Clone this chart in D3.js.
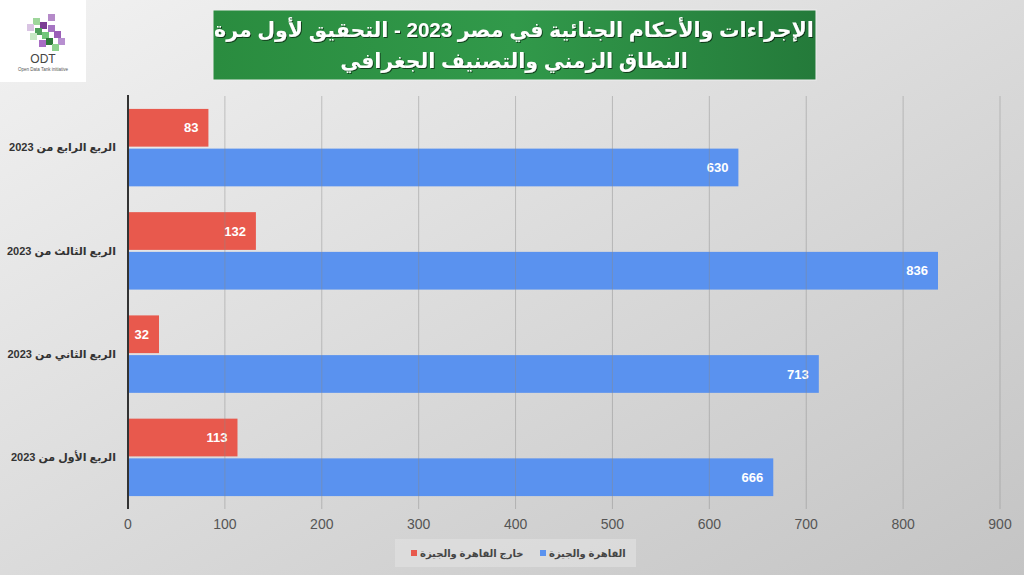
<!DOCTYPE html>
<html>
<head>
<meta charset="utf-8">
<title>الإجراءات والأحكام الجنائية في مصر 2023</title>
<style>
  body { margin: 0; padding: 0; overflow: hidden; }
  svg { display: block; font-family: 'Liberation Sans', Arial, 'DejaVu Sans', sans-serif; }
  .tick-label { font-size: 14px; fill: #555; }
  .cat-label { font-size: 11px; font-weight: bold; fill: #333; }
  .value-label { font-size: 13px; font-weight: bold; fill: #fff; }
  .legend-label { font-size: 10px; font-weight: bold; fill: #444; }
</style>
</head>
<body>
<svg width="1024" height="575"></svg>
<script src="https://d3js.org/d3.v7.min.js"></script>
<script>
// quarters, bottom to top as in the chart
const categories = ["الربع الأول من 2023", "الربع الثاني من 2023", "الربع الثالث من 2023", "الربع الرابع من 2023"];
const cairoGiza = [666, 713, 836, 630];
const outsideCairo = [113, 32, 132, 83];
const seriesNames = ["خارج القاهرة والجيزة", "القاهرة والجيزة"];
const seriesColors = ["#e8594d", "#5a92ef"];
const xTicks = [0, 100, 200, 300, 400, 500, 600, 700, 800, 900];
const titleLines = ["الإجراءات والأحكام الجنائية في مصر 2023 - التحقيق لأول مرة", "النطاق الزمني والتصنيف الجغرافي"];

const width = 1024, height = 575;
const margin = { top: 96, right: 24, bottom: 66, left: 128 };

const svg = d3.select("svg");

// background
const defs = svg.append("defs");
const bg = defs.append("linearGradient").attr("id", "bg")
  .attr("x1", "0%").attr("y1", "0%").attr("x2", "100%").attr("y2", "100%");
bg.append("stop").attr("offset", "0%").attr("stop-color", "#f2f2f2");
bg.append("stop").attr("offset", "100%").attr("stop-color", "#c4c4c4");
const green = defs.append("linearGradient").attr("id", "green")
  .attr("x1", "0%").attr("y1", "0%").attr("x2", "100%").attr("y2", "0%");
green.append("stop").attr("offset", "0%").attr("stop-color", "#2a8c3f");
green.append("stop").attr("offset", "50%").attr("stop-color", "#31994a");
green.append("stop").attr("offset", "100%").attr("stop-color", "#247a3a");
const shadow = defs.append("filter").attr("id", "shadow");
shadow.append("feDropShadow").attr("dx", 1).attr("dy", 1).attr("stdDeviation", 0.6)
  .attr("flood-color", "#000").attr("flood-opacity", 0.6);

svg.append("rect").attr("width", width).attr("height", height).attr("fill", "url(#bg)");

// logo
const logo = svg.append("g");
logo.append("rect").attr("x", 0).attr("y", 0).attr("width", 86).attr("height", 82).attr("fill", "#fff");
const cubes = [[48, 14, "#b58ac9"], [33, 18, "#9ed69b"], [40, 22, "#7b3d93"], [27, 24, "#d9c4e3"],
  [35, 28, "#4fa05a"], [48, 25, "#a574c2"], [42, 32, "#72c77a"], [54, 31, "#9b5fb8"],
  [30, 33, "#c8e8c5"], [46, 38, "#2f7a3a"], [58, 38, "#b78fd0"], [39, 40, "#a86dc4"], [52, 44, "#8ed28e"]];
logo.selectAll("rect.cube").data(cubes).join("rect").attr("class", "cube")
  .attr("x", d => d[0]).attr("y", d => d[1]).attr("width", 7).attr("height", 7)
  .attr("fill", d => d[2]);
logo.append("text").attr("x", 43).attr("y", 63).attr("text-anchor", "middle")
  .attr("font-size", 12).attr("fill", "#444").text("ODT");
logo.append("text").attr("x", 43).attr("y", 71).attr("text-anchor", "middle")
  .attr("font-size", 4.5).attr("fill", "#555").text("Open Data Tank initiative");

// title box
svg.append("rect").attr("x", 213).attr("y", 10).attr("width", 603).attr("height", 70)
  .attr("fill", "url(#green)").attr("stroke", "#eee").attr("stroke-width", 1);
svg.selectAll("text.title").data(titleLines).join("text").attr("class", "title")
  .attr("x", 514).attr("y", (d, i) => 37 + i * 31)
  .attr("text-anchor", "middle").attr("direction", "rtl")
  .attr("font-size", 20.5).attr("font-weight", "bold").attr("fill", "#fff")
  .attr("filter", "url(#shadow)")
  .text(d => d);

// scales
const x = d3.scaleLinear().domain([0, 900]).range([margin.left, 1000]);
const y = d3.scaleBand().domain(categories.slice().reverse())
  .range([margin.top, height - margin.bottom]).paddingInner(0.25).paddingOuter(0.125);
const ySub = d3.scaleBand().domain(seriesNames).range([0, y.bandwidth()]).paddingInner(0.05);

const rows = categories.map((c, i) => ({ cat: c, values: [outsideCairo[i], cairoGiza[i]] }));

// bars
const groups = svg.selectAll("g.row").data(rows).join("g").attr("class", "row")
  .attr("transform", d => `translate(0,${y(d.cat)})`);
groups.selectAll("rect").data(d => d.values.map((v, j) => ({ v, s: seriesNames[j], c: seriesColors[j] })))
  .join("rect")
  .attr("x", x(0)).attr("y", d => ySub(d.s))
  .attr("width", d => x(d.v) - x(0)).attr("height", ySub.bandwidth())
  .attr("fill", d => d.c);
groups.selectAll("text.value-label").data(d => d.values.map((v, j) => ({ v, s: seriesNames[j] })))
  .join("text").attr("class", "value-label")
  .attr("x", d => x(d.v) - 10).attr("y", d => ySub(d.s) + ySub.bandwidth() / 2)
  .attr("dy", "0.35em").attr("text-anchor", "end")
  .text(d => d.v);

// gridlines + ticks
const xAxis = svg.append("g").attr("class", "x axis");
xAxis.selectAll("line").data(xTicks.slice(1)).join("line")
  .attr("x1", d => x(d)).attr("x2", d => x(d))
  .attr("y1", margin.top).attr("y2", height - margin.bottom)
  .attr("stroke", "#8a8a8a").attr("stroke-opacity", 0.45).attr("stroke-width", 1);
xAxis.selectAll("text").data(xTicks).join("text").attr("class", "tick-label")
  .attr("x", d => x(d)).attr("y", 529).attr("text-anchor", "middle")
  .text(d => d);

// left axis line
svg.append("line").attr("x1", x(0)).attr("x2", x(0))
  .attr("y1", margin.top - 1).attr("y2", height - margin.bottom)
  .attr("stroke", "#333").attr("stroke-width", 2);

// category labels (rtl: "start" = right edge)
svg.selectAll("text.cat-label").data(categories).join("text").attr("class", "cat-label")
  .attr("x", 116).attr("y", d => y(d) + y.bandwidth() / 2)
  .attr("dy", "0.35em").attr("text-anchor", "start").attr("direction", "rtl")
  .text(d => d);

// legend (rtl: "end" = left edge, just right of the key)
const legend = svg.append("g");
legend.append("rect").attr("x", 395).attr("y", 539).attr("width", 241).attr("height", 28)
  .attr("fill", "#e2e2e2").attr("fill-opacity", 0.6);
const legendItems = [{ name: seriesNames[0], color: seriesColors[0], x: 411 },
  { name: seriesNames[1], color: seriesColors[1], x: 540 }];
legend.selectAll("rect.key").data(legendItems).join("rect").attr("class", "key")
  .attr("x", d => d.x).attr("y", 550).attr("width", 6).attr("height", 6)
  .attr("fill", d => d.color);
legend.selectAll("text").data(legendItems).join("text").attr("class", "legend-label")
  .attr("x", d => d.x + 9).attr("y", 553).attr("dy", "0.35em")
  .attr("text-anchor", "end").attr("direction", "rtl")
  .text(d => d.name);
</script>
</body>
</html>
